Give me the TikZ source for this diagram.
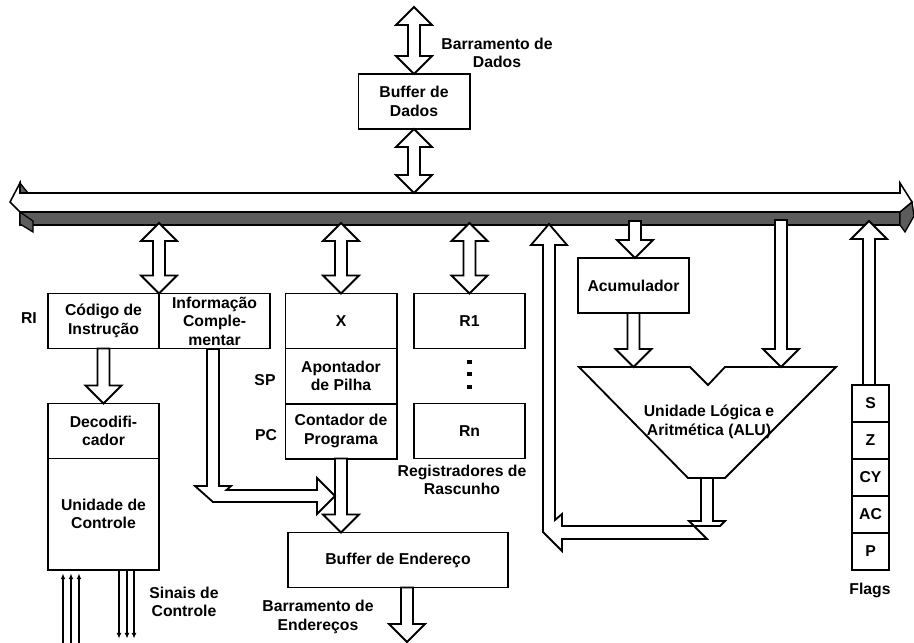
\documentclass[tikz,border=0pt]{standalone}
\usepackage{fontspec}
\setmainfont{Liberation Sans}
\usetikzlibrary{calc,positioning,arrows.meta}

\definecolor{busgray}{RGB}{92,92,92}

% hollow block arrows (vertical), head 18, shaft 6
\newcommand{\dblarrow}[2]{%
  \draw[fat] (#1) -- ($(#1)+(18,18)$) -- ($(#1)+(6,18)$) -- ($(#2)+(6,-18)$) -- ($(#2)+(18,-18)$) -- (#2)
    -- ($(#2)+(-18,-18)$) -- ($(#2)+(-6,-18)$) -- ($(#1)+(-6,18)$) -- ($(#1)+(-18,18)$) -- cycle;}
\newcommand{\downarr}[2]{%
  \draw[fat] ($(#1)+(-6,0)$) -- ($(#2)+(-6,-18)$) -- ($(#2)+(-18,-18)$) -- (#2)
    -- ($(#2)+(18,-18)$) -- ($(#2)+(6,-18)$) -- ($(#1)+(6,0)$) -- cycle;}
\newcommand{\uparr}[2]{%
  \draw[fat] ($(#1)+(-6,0)$) -- ($(#2)+(-6,18)$) -- ($(#2)+(-18,18)$) -- (#2)
    -- ($(#2)+(18,18)$) -- ($(#2)+(6,18)$) -- ($(#1)+(6,0)$) -- cycle;}

\begin{document}
\begin{tikzpicture}[
	x=0.025cm, y=-0.025cm,
	every node/.style={font=\bfseries\fontsize{11.2}{13.2}\selectfont, align=center},
	box/.style={draw, line width=1.4pt, minimum width=2.775cm, minimum height=1.375cm, inner sep=0pt, outer sep=0pt},
	flag/.style={box, minimum width=0.925cm, minimum height=0.925cm},
	fat/.style={draw, fill=white, line width=1.3pt, line join=miter},
	sig/.style={line width=0.8pt, -{Latex[length=4pt,width=3.5pt]}}
]
\useasboundingbox (0,0) rectangle (914,643);

% barramento interno
\filldraw[busgray, draw=black, line width=0.9pt] (20,212) -- (900,212) -- (900,225) -- (20,225) -- cycle;
\filldraw[busgray, draw=black, line width=0.9pt] (20,212) -- (33,221) -- (33,232) -- (20,224) -- cycle;
\filldraw[busgray, draw=black, line width=0.9pt] (20,183) -- (28,193) -- (20,193) -- cycle;
\filldraw[busgray, draw=black, line width=0.9pt] (900,212) -- (912,202) -- (914,216) -- (905,232) -- (900,225) -- cycle;
\draw[fill=white, line width=1.1pt] (10,202) -- (20,183) -- (20,193) -- (900,193) -- (900,183) -- (912,202) -- (900,212) -- (20,212) -- cycle;
\coordinate (bustop) at (0,193);
\coordinate (busbot) at (0,223);

% blocos
\node[box] (bufdad) at (414,101.5) {Buffer de\\Dados};
\node[box] (codigo) at (103.5,321) {Código de\\Instrução};
\node[box, right=0pt of codigo] (info) {Informação\\Comple-\\mentar};
\node[box] (decod) at (103.5,431) {Decodifi-\\cador};
\node[box, below=0pt of decod, minimum height=2.775cm] (uc) {Unidade de\\Controle};
\node[box] (x) at (341,321) {X};
\node[box, below=0pt of x] (sp) {Apontador\\de Pilha};
\node[box, below=0pt of sp] (pc) {Contador de\\Programa};
\node[box] (r1) at (469.5,321) {R1};
\node[box] (rn) at (469.5,431) {Rn};
\node[box, minimum width=5.5cm] (bufend) at (398,560) {Buffer de Endereço};
\node[box] (acc) at (633.5,285.5) {Acumulador};
\node[flag] (fs) at (870.5,403.5) {S};
\node[flag, below=0pt of fs] (fz) {Z};
\node[flag, below=0pt of fz] (fcy) {CY};
\node[flag, below=0pt of fcy] (fac) {AC};
\node[flag, below=0pt of fac] (fp) {P};

% ALU
\coordinate (alutop) at (0,367);
\coordinate (alubot) at (707,478);
\draw[fat] (579,367) -- (690,367) -- (708,385) -- (725,367) -- (836,367) -- (725,478) -- (688,478) -- cycle;
\node (alu) at (709,422) {Unidade Lógica e\\Aritmética (ALU)};

% rotulos
\node (lri) at (29,318) {RI};
\node (lsp) at (265,380) {SP};
\node (lpc) at (266,435) {PC};
\node (ldados) at (497,53) {Barramento de\\Dados};
\node (lreg) at (462,480) {Registradores de\\Rascunho};
\node (lend) at (318,617) {Barramento de\\Endereços};
\node (lsin) at (184,602) {Sinais de\\Controle};
\node (lflags) at (870,590) {Flags};
\foreach \yy in {362,374,387}
	\fill (469.5,\yy) +(-2.2,-2.4) rectangle +(2.2,2.4);

% setas de bloco
\coordinate (dtop) at (414,7);
\dblarrow{dtop}{bufdad.north}
\coordinate (bd) at (bufdad.south |- bustop);
\dblarrow{bufdad.south}{bd}
\coordinate (b1) at (codigo.north east |- busbot);
\dblarrow{b1}{codigo.north east}
\coordinate (b2) at (x.north |- busbot);
\dblarrow{b2}{x.north}
\coordinate (b3) at (r1.north |- busbot);
\dblarrow{b3}{r1.north}
\downarr{codigo.south}{decod.north}
\coordinate (pcb) at (pc.south |- bufend.north);
\downarr{pc.south}{pcb}
\coordinate (abus) at (407,642);
\coordinate (abt) at (abus |- bufend.south);
\downarr{abt}{abus}
\coordinate (b4) at ($(acc.north |- busbot)+(1.5,-2)$);
\coordinate (acn) at ($(acc.north)+(1.5,0)$);
\downarr{b4}{acn}
\coordinate (a1) at (acc.south |- alutop);
\downarr{acc.south}{a1}
\coordinate (a2) at (781,367);
\coordinate (b5) at ($(a2 |- busbot)+(0,-3)$);
\downarr{b5}{a2}
\coordinate (b6) at ($(fs.north |- busbot)+(-1.5,-2)$);
\coordinate (fsn) at ($(fs.north)+(-1.5,0)$);
\uparr{fsn}{b6}

% informacao complementar -> PC
\draw[fat] (207,349) -- (207,486) -- (195,486) -- (213,502) -- (317,502) -- (317,514) -- (335,496)
	-- (317,478) -- (317,490) -- (226.5,490) -- (231,486) -- (219,486) -- (219,349) -- cycle;

% ALU -> barramento
\draw[fat] (701,478) -- (701,521) -- (689,521) -- (707,539) -- (562,539) -- (562,551) -- (543,532)
	-- (543,245) -- (531,245) -- (549,224) -- (567,245) -- (555,245) -- (555,520) -- (562,514)
	-- (562,526) -- (720,526) -- (725,521) -- (713,521) -- (713,478) -- cycle;

% sinais de controle
\foreach \dx in {-40.5,-32.5,-24.5}
	\draw[sig] ($(uc.south)+(\dx,74)$) -- ($(uc.south)+(\dx,4)$);
\foreach \dx in {15.5,23.5,30.5}
	\draw[sig] ($(uc.south)+(\dx,0)$) -- ($(uc.south)+(\dx,69)$);
\end{tikzpicture}
\end{document}
